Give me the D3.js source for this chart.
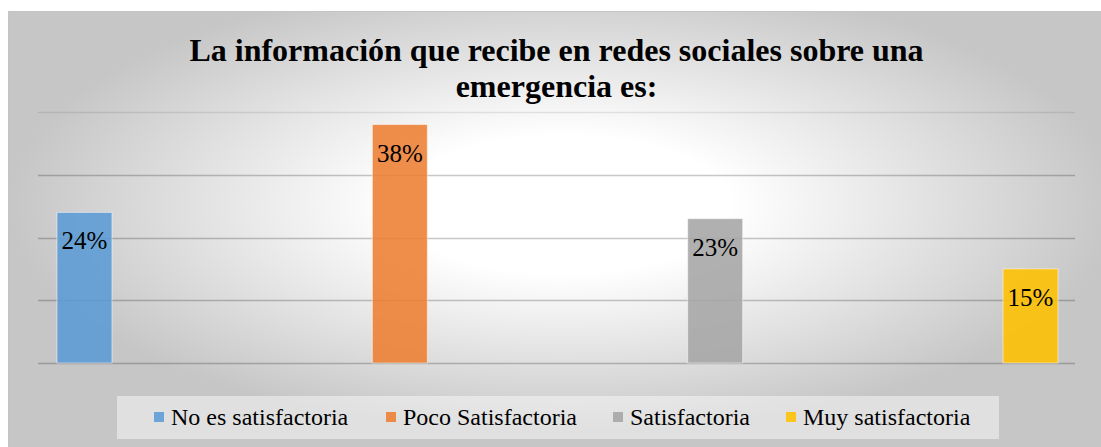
<!DOCTYPE html>
<html>
<head>
<meta charset="utf-8">
<script src="https://cdnjs.cloudflare.com/ajax/libs/d3/7.8.5/d3.min.js"></script>
<style>
  html, body { margin: 0; padding: 0; background: #ffffff; }
  svg { display: block; }
  svg text { font-family: "Liberation Serif", "Times New Roman", Times, "Liberation Sans", serif; }
</style>
</head>
<body>
<svg id="chart" width="1101" height="447"></svg>
<script>
// Survey answers: share of respondents per rating
const categories = ["No es satisfactoria", "Poco Satisfactoria", "Satisfactoria", "Muy satisfactoria"];
const values = [0.24, 0.38, 0.23, 0.15];
const colors = ["#5b9bd5", "#ed7d31", "#a5a5a5", "#ffc000"];
const yTicks = [0, 0.1, 0.2, 0.3, 0.4];
const titleLines = ["La información que recibe en redes sociales sobre una", "emergencia es:"];

const svg = d3.select("#chart");

// Chart frame with a soft radial shading
const defs = svg.append("defs");
const grad = defs.append("radialGradient")
  .attr("id", "bg")
  .attr("cx", 0.5).attr("cy", 0.42).attr("r", 0.5);
grad.append("stop").attr("offset", "0").attr("stop-color", "#ffffff");
grad.append("stop").attr("offset", "0.3").attr("stop-color", "#ffffff");
grad.append("stop").attr("offset", "1").attr("stop-color", "#c6c6c6");

svg.append("rect")
  .attr("x", 8.5).attr("y", 11.5)
  .attr("width", 1110).attr("height", 460)
  .attr("fill", "url(#bg)")
  .attr("stroke", "#c4c4c4").attr("stroke-width", 1);

// Plot area
const plot = { left: 38, right: 1075, top: 112, bottom: 363 };

const y = d3.scaleLinear().domain([0, 0.4]).range([plot.bottom, plot.top]);
const x = d3.scaleBand()
  .domain(categories)
  .range([57, 1058])
  .paddingInner(0.8257)
  .paddingOuter(0);

// Horizontal gridlines
svg.append("g")
  .selectAll("line")
  .data(yTicks)
  .join("line")
  .attr("x1", plot.left).attr("x2", plot.right)
  .attr("y1", d => Math.round(y(d)) + 0.5)
  .attr("y2", d => Math.round(y(d)) + 0.5)
  .attr("stroke", "#000")
  .attr("stroke-opacity", d => d === 0.4 ? 0.09 : 0.22)
  .attr("stroke-width", 1.5);

// Bars
const data = categories.map((c, i) => ({ c, v: values[i], color: colors[i] }));
svg.append("g")
  .selectAll("rect")
  .data(data)
  .join("rect")
  .attr("x", d => x(d.c))
  .attr("y", d => y(d.v))
  .attr("width", x.bandwidth())
  .attr("height", d => y(0) - y(d.v))
  .attr("fill", d => d.color)
  .attr("fill-opacity", 0.88)
  .attr("stroke", "#ffffff")
  .attr("stroke-opacity", 0.5)
  .attr("stroke-width", 1);

// Value labels inside the top of each bar
svg.append("g")
  .selectAll("text")
  .data(data)
  .join("text")
  .attr("x", d => x(d.c) + x.bandwidth() / 2)
  .attr("y", d => y(d.v) + 37)
  .attr("text-anchor", "middle")
  .attr("font-size", 25)
  .attr("fill", "#000")
  .text(d => d3.format(".0%")(d.v));

// Title
svg.append("g")
  .selectAll("text")
  .data(titleLines)
  .join("text")
  .attr("x", 556.5)
  .attr("y", (d, i) => 61 + i * 36)
  .attr("text-anchor", "middle")
  .attr("font-weight", "bold")
  .attr("font-size", 32)
  .attr("fill", "#000")
  .text(d => d);

// Legend
const legend = svg.append("g");
legend.append("rect")
  .attr("x", 117).attr("y", 396)
  .attr("width", 882).attr("height", 43)
  .attr("fill", "#ffffff").attr("fill-opacity", 0.45);

const legendX = [154, 386, 613, 786];
const items = legend.selectAll("g.item")
  .data(data)
  .join("g")
  .attr("class", "item")
  .attr("transform", (d, i) => `translate(${legendX[i]},0)`);
items.append("rect")
  .attr("x", 0).attr("y", 412)
  .attr("width", 10).attr("height", 10)
  .attr("fill", d => d.color)
  .attr("fill-opacity", 0.88);
items.append("text")
  .attr("x", 17).attr("y", 425)
  .attr("font-size", 24)
  .attr("fill", "#000")
  .text(d => d.c);
</script>
</body>
</html>
